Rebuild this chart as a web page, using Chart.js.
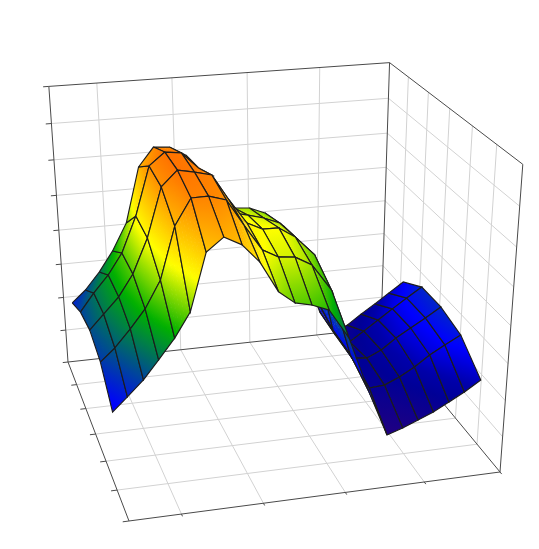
<!DOCTYPE html>
<html><head><meta charset="utf-8">
<script src="https://cdn.jsdelivr.net/npm/chart.js@4"></script>
<style>html,body{margin:0;padding:0;background:#fff}canvas{display:block}</style></head>
<body><div style="width:539px;height:549px"><canvas id="c" width="539" height="549"></canvas></div>
<script>
const xTicks=[0,.135,.35,.57,.787,1];
const yTicks=[0,1/6,2/6,3/6,4/6,5/6,1];
const zTicks=[0,1/8,2/8,3/8,4/8,5/8,6/8,7/8,1];
const xValues=[0,.04,.083,.124,.167,.209,.253,.298,.344,.389,.437,.48,.525,.571,.626,.682,.739,.783,.826,.869,.912,.955,1];
const yValues=[.19,.35,.51,.67,.83];
const zAtY0=[.319,.361,.421,.491,.585,.774,.837,.833,.801,.711,.619,.604,.599,.576,.524,.380,.190,.107,.128,.165,.199,.235,.272];
const zAtY1=[.362,.424,.482,.553,.674,.836,.877,.870,.816,.745,.655,.643,.628,.606,.540,.318,.181,.149,.184,.220,.256,.291,.326];
const zAtY2=[.377,.427,.480,.552,.667,.828,.877,.866,.852,.767,.686,.661,.660,.624,.557,.286,.177,.170,.194,.232,.263,.294,.328];
const zAtY3=[.349,.391,.449,.510,.599,.767,.850,.851,.834,.750,.665,.637,.631,.600,.509,.280,.152,.156,.179,.209,.246,.276,.305];
const zAtY4=[.267,.312,.362,.422,.487,.566,.748,.789,.760,.701,.601,.560,.547,.525,.425,.240,.073,.091,.113,.135,.164,.193,.229];
const zByY=[zAtY0,zAtY1,zAtY2,zAtY3,zAtY4];

const cam={a:330.51,b:38.93,c:68,d:-18.93,e:69.87,f:362,g:.04595,h:-.17107,k:-.0825,vx:281,vy:3427};
function project(u,v,z){const C=cam,w=1+C.g*u+C.h*v+C.k*z;return {x:(C.a*u+C.b*v+C.c+C.k*C.vx*z)/w,y:(C.d*u+C.e*v+C.f+C.k*C.vy*z)/w};}
function depth(u,v,z){const C=cam;return 1+C.g*u+C.h*v+C.k*z;}
const stops=[[0,[70,10,100]],[.08,[30,0,130]],[.17,[0,0,150]],[.21,[0,0,170]],[.28,[0,0,255]],[.50,[0,176,0]],[.66,[255,255,0]],[.88,[255,112,0]],[1.05,[255,0,0]]];
function colour(z){for(let s=1;s<stops.length;s++){if(z<=stops[s][0]){const p=stops[s-1],q=stops[s],t=Math.max(0,(z-p[0])/(q[0]-p[0]));return 'rgb('+[0,1,2].map(n=>Math.round(p[1][n]+(q[1][n]-p[1][n])*t)).join(',')+')';}}return 'rgb(255,0,0)';}
const canvas=document.getElementById('c'),ctx=canvas.getContext('2d');
function quadFill(V){
  const n=V.length,mx=V.reduce((s,p)=>s+p.x,0)/n,my=V.reduce((s,p)=>s+p.y,0)/n,mz=V.reduce((s,p)=>s+p.z,0)/n;
  let sxx=0,sxy=0,syy=0,sxz=0,syz=0;
  V.forEach(p=>{const X=p.x-mx,Y=p.y-my,Z=p.z-mz;sxx+=X*X;sxy+=X*Y;syy+=Y*Y;sxz+=X*Z;syz+=Y*Z;});
  const det=sxx*syy-sxy*sxy;
  if(Math.abs(det)<1e-6)return colour(mz);
  const gx=(syy*sxz-sxy*syz)/det,gy=(sxx*syz-sxy*sxz)/det,m=gx*gx+gy*gy;
  if(m<1e-9)return colour(mz);
  const zs=V.map(p=>p.z),lo=Math.min(...zs),hi=Math.max(...zs);
  const p0={x:mx+gx*(lo-mz)/m,y:my+gy*(lo-mz)/m},p1={x:mx+gx*(hi-mz)/m,y:my+gy*(hi-mz)/m};
  const G=ctx.createLinearGradient(p0.x,p0.y,p1.x,p1.y);
  for(let t=0;t<=4;t++)G.addColorStop(t/4,colour(lo+(hi-lo)*t/4));
  return G;
}
const line=(pts,color,width)=>({type:'scatter',data:pts,showLine:true,pointRadius:0,borderColor:color,borderWidth:width,tension:0,fill:false,clip:false});
const under=[];
const GRID='#d2d2d2',EDGE='#4a4a4a';
xTicks.slice(1,-1).forEach(u=>{under.push(line([project(u,0,0),project(u,0,1)],GRID,1));under.push(line([project(u,0,0),project(u,1,0)],GRID,1));});
yTicks.slice(1,-1).forEach(v=>{under.push(line([project(1,v,0),project(1,v,1)],GRID,1));under.push(line([project(0,v,0),project(1,v,0)],GRID,1));});
zTicks.slice(1,-1).forEach(z=>{under.push(line([project(0,0,z),project(1,0,z),project(1,1,z)],GRID,1));});
[[[0,0,0],[0,0,1],[1,0,1],[1,1,1],[1,1,0],[0,1,0],[0,0,0],[1,0,0],[1,1,0]],[[1,0,0],[1,0,1]]].forEach(path=>under.push(line(path.map(p=>project(...p)),EDGE,1)));
zTicks.forEach(z=>under.push(line([project(0,0,z),project(-.016,0,z)],EDGE,1)));
yTicks.slice(1).forEach(v=>under.push(line([project(0,v,0),project(-.016,v,0)],EDGE,1)));
xTicks.slice(1).forEach(u=>under.push(line([project(u,1,0),project(u,1.012,0)],EDGE,1)));
const quads=[];
for(let i=0;i<xValues.length-1;i++)for(let j=0;j<yValues.length-1;j++){
  const corner=(a,b)=>[xValues[a],yValues[b],zByY[b][a]];
  const c=[corner(i,j),corner(i+1,j),corner(i+1,j+1),corner(i,j+1)];
  quads.push({c,d:c.reduce((s,p)=>s+depth(...p),0)/4});
}
quads.sort((p,q)=>q.d-p.d);
const painted=[];
quads.forEach(q=>{
  const lerp3=(s,t)=>[0,1,2].map(n=>(1-s)*(1-t)*q.c[0][n]+s*(1-t)*q.c[1][n]+s*t*q.c[2][n]+(1-s)*t*q.c[3][n]);
  const S=q.c.map(p=>project(...p));
  const len=(A,B)=>Math.hypot(A.x-B.x,A.y-B.y);
  const ns=Math.max(1,Math.ceil(Math.max(len(S[0],S[1]),len(S[3],S[2]))/10));
  const nt=Math.max(1,Math.ceil(Math.max(len(S[0],S[3]),len(S[1],S[2]))/10));
  for(let a=0;a<ns;a++)for(let b=0;b<nt;b++){
    const s0=a/ns,s1=Math.min(1,(a+1.15)/ns),t0=b/nt,t1=Math.min(1,(b+1.15)/nt);
    const pts=[lerp3(s0,t0),lerp3(s1,t0),lerp3(s1,t1),lerp3(s0,t1)].map(p=>{const P=project(...p);return {x:P.x,y:P.y,z:p[2]};});
    painted.push({type:'scatter',data:[...pts,pts[0]].map(p=>({x:p.x,y:p.y})),showLine:true,pointRadius:0,borderWidth:0,borderColor:'transparent',tension:0,fill:'shape',backgroundColor:quadFill(pts),clip:false});
  }
  painted.push(line([...S,S[0]],'#1c1c1c',1.15));
});
new Chart(canvas,{type:'scatter',data:{datasets:[...painted.reverse(),...under.reverse()]},options:{responsive:false,animation:false,layout:{padding:0},plugins:{legend:{display:false},tooltip:{enabled:false}},scales:{x:{type:'linear',display:false,min:0,max:539},y:{type:'linear',display:false,min:0,max:549,reverse:true}}}});
</script></body></html>
